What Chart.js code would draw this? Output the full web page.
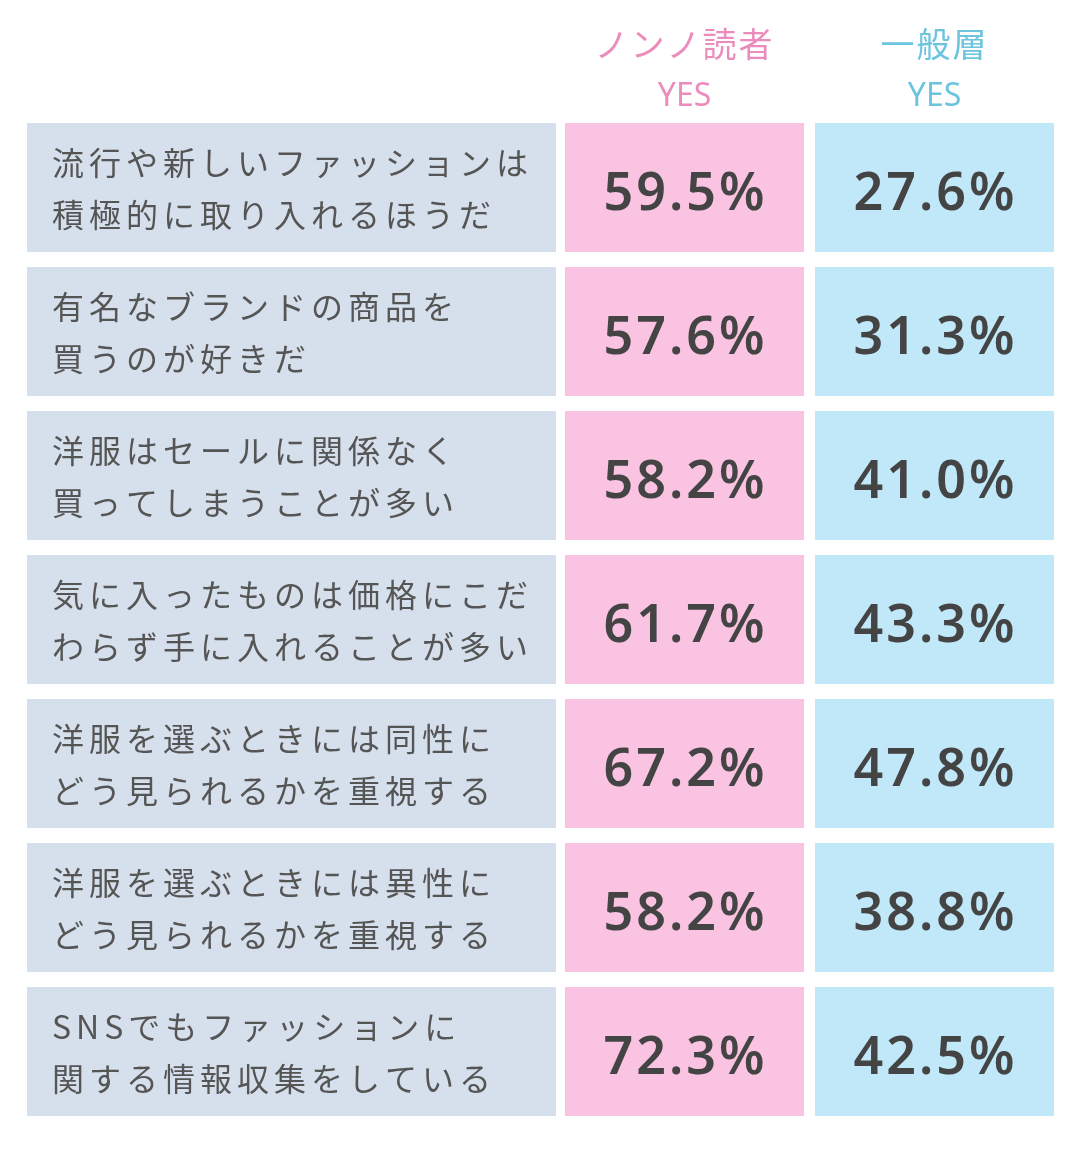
<!DOCTYPE html>
<html><head><meta charset="utf-8">
<script src="https://cdn.jsdelivr.net/npm/chart.js"></script>
<style>html,body{margin:0;padding:0;background:#fff}#w{width:1080px;height:1162px}</style>
</head><body><div id="w"><canvas id="c"></canvas></div>
<script>
const categories = [
  ["流行や新しいファッションは","積極的に取り入れるほうだ"],
  ["有名なブランドの商品を","買うのが好きだ"],
  ["洋服はセールに関係なく","買ってしまうことが多い"],
  ["気に入ったものは価格にこだ","わらず手に入れることが多い"],
  ["洋服を選ぶときには同性に","どう見られるかを重視する"],
  ["洋服を選ぶときには異性に","どう見られるかを重視する"],
  ["SNSでもファッションに","関する情報収集をしている"]
];
const nonnoYes = [59.5, 57.6, 58.2, 61.7, 67.2, 58.2, 72.3];
const generalYes = [27.6, 31.3, 41.0, 43.3, 47.8, 38.8, 42.5];
const seriesNames = [["ノンノ読者","YES"],["一般層","YES"]];

const COLS = {label:[27,556], a:[565,804], b:[815,1054]};
const labelsIdx = categories.map((_,i)=>i);

const textPlugin = {
  id:'txt',
  afterDatasetsDraw(chart){
    const ctx = chart.ctx, x = chart.scales.x, y = chart.scales.y;
    ctx.save();
    ctx.textBaseline='middle';
    const hdr = [[COLS.a,'#ec8cbd'],[COLS.b,'#6cc4de']];
    hdr.forEach(([c,col],k)=>{
      const cx = x.getPixelForValue((c[0]+c[1])/2);
      ctx.fillStyle=col; ctx.textAlign='center';
      ctx.font='34px "Noto Sans CJK JP"';
      ctx.letterSpacing='2px';
      ctx.fillText(seriesNames[k][0], cx, 44);
      ctx.font='32px "Noto Sans"';
      ctx.letterSpacing='0px';
      ctx.fillText(seriesNames[k][1], cx, 97);
    });
    categories.forEach((lines,i)=>{
      const cy = y.getPixelForValue(i);
      ctx.fillStyle='#555'; ctx.textAlign='left';
      ctx.font='32px "Noto Sans CJK JP"';
      ctx.letterSpacing='5px';
      ctx.fillText(lines[0], x.getPixelForValue(COLS.label[0]+25), cy-25);
      ctx.fillText(lines[1], x.getPixelForValue(COLS.label[0]+25), cy+27);
      ctx.fillStyle='#444'; ctx.textAlign='center';
      ctx.font='600 52px "Noto Sans"';
      ctx.letterSpacing='3px';
      ctx.fillText(nonnoYes[i].toFixed(1)+'%', x.getPixelForValue((COLS.a[0]+COLS.a[1])/2)+1, cy+8);
      ctx.fillText(generalYes[i].toFixed(1)+'%', x.getPixelForValue((COLS.b[0]+COLS.b[1])/2)+1, cy+8);
    });
    ctx.restore();
  }
};

new Chart(document.getElementById('c'), {
  type:'bar',
  data:{
    labels: labelsIdx,
    datasets:[
      {data: labelsIdx.map(()=>COLS.label), backgroundColor:'#d6e0ec', grouped:false},
      {data: nonnoYes.map(()=>COLS.a), backgroundColor:'#f9c3e1', grouped:false},
      {data: generalYes.map(()=>COLS.b), backgroundColor:'#c0e8f9', grouped:false}
    ]
  },
  options:{
    indexAxis:'y', responsive:true, maintainAspectRatio:false, animation:false,
    layout:{padding:{top:115.5,bottom:38.5,left:0,right:0}},
    categoryPercentage:129/144, barPercentage:1,
    scales:{
      x:{type:'linear',min:0,max:1080,display:false},
      y:{display:false,offset:true}
    },
    plugins:{legend:{display:false},tooltip:{enabled:false}}
  },
  plugins:[textPlugin]
});
</script></body></html>
